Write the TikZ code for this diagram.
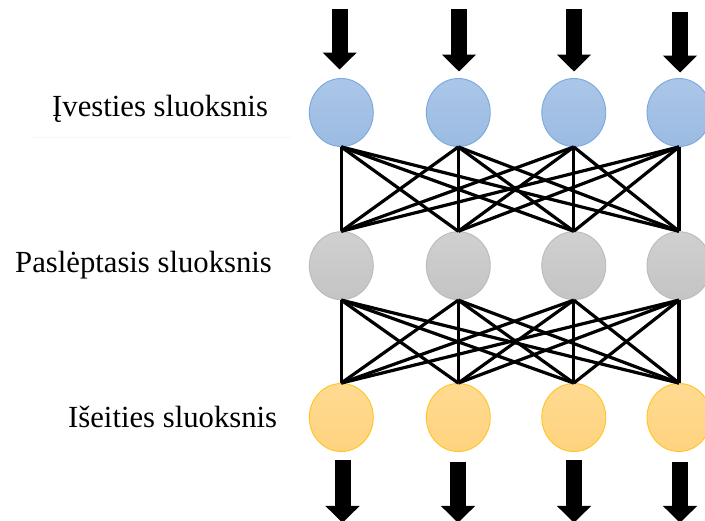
\documentclass[tikz,border=0pt]{standalone}
\usepackage{fontspec}
\setmainfont{Liberation Serif}
\usetikzlibrary{shapes.geometric,arrows.meta}

\definecolor{inTop}{HTML}{ABC6E8}
\definecolor{inBot}{HTML}{9BBBE2}
\definecolor{inRim}{HTML}{78A9DE}
\definecolor{hidTop}{HTML}{D0D0D0}
\definecolor{hidBot}{HTML}{C4C4C4}
\definecolor{hidRim}{HTML}{BBBBBB}
\definecolor{outTop}{HTML}{FFDA91}
\definecolor{outBot}{HTML}{FFD37F}
\definecolor{outRim}{HTML}{FFC51F}

\tikzset{
  neuron/.style={ellipse, minimum width=64pt, minimum height=68pt, inner sep=0pt, line width=0.9pt},
  inneuron/.style={neuron, draw=inRim, top color=inTop, bottom color=inBot},
  hidneuron/.style={neuron, draw=hidRim, top color=hidTop, bottom color=hidBot},
  outneuron/.style={neuron, draw=outRim, top color=outTop, bottom color=outBot},
  link/.style={line width=3.2pt, black},
  bigarrow/.style={line width=16pt, black, -{Triangle[width=33pt,length=17pt]}},
  layerlabel/.style={anchor=base west, inner sep=0pt, font=\fontsize{30.7}{36}\selectfont}
}

\begin{document}
\begin{tikzpicture}[x=1pt, y=-1pt]
  \clip (0,0) rectangle (705,521);
  \fill[white] (0,0) rectangle (705,521);

  % layer labels
  \node[layerlabel] (lin)  at (52,117)  {Įvesties sluoksnis};
  \node[layerlabel] (lhid) at (15,273)  {Paslėptasis sluoksnis};
  \node[layerlabel] (lout) at (68,428)  {Išeities sluoksnis};
  \draw[black!3, line width=1pt] (31,137.7) -- (292,137.7);

  % neurons
  \foreach \i/\x in {1/341.3, 2/458.3, 3/573.8, 4/679} {
    \node[inneuron]  (i\i) at (\x,112.5) {};
    \node[hidneuron] (h\i) at (\x,265.7) {};
    \node[outneuron] (o\i) at (\x,417.5) {};
  }

  % fully connected links
  \foreach \a in {1,...,4} {
    \foreach \b in {1,...,4} {
      \draw[link] (i\a.south) -- (h\b.north);
      \draw[link] (h\a.south) -- (o\b.north);
    }
  }

  % input and output arrows
  \foreach \i/\x/\t/\s in {1/339.7/9.5/8.5, 2/459/9.5/6.5, 3/574/9.5/6.5, 4/680/12/5.5} {
    \coordinate (src\i) at (\x,\t);
    \draw[bigarrow, shorten >=\s pt] (src\i) -- (src\i |- i\i.north);
  }
  \foreach \i/\x/\t in {1/342.5/460, 2/458/461.7, 3/574/460, 4/680/461.7} {
    \coordinate (top\i) at (\x,\t);
    \coordinate (dst\i) at (\x,523);
    \draw[bigarrow] (top\i) -- (dst\i);
  }
\end{tikzpicture}
\end{document}
